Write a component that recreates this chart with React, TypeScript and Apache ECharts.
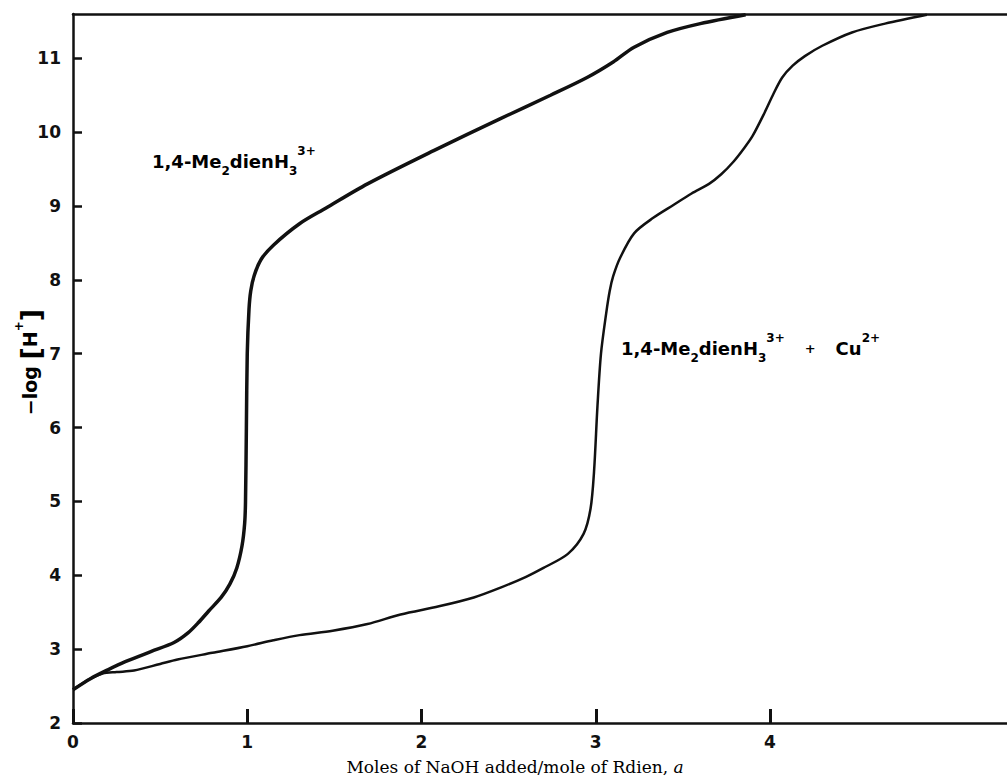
import React, { useEffect, useRef } from "react";
import * as echarts from "echarts";

const curve1X = [0, 0.1, 0.2, 0.3, 0.45, 0.58, 0.66, 0.72, 0.78, 0.85, 0.9, 0.94, 0.97, 0.985, 0.99, 0.995, 1.0, 1.01, 1.02, 1.04, 1.08, 1.15, 1.3, 1.45, 1.69, 2.07, 2.45, 2.74, 2.95, 3.1, 3.22, 3.41, 3.6, 3.86];
const curve1Y = [2.45, 2.6, 2.72, 2.83, 2.97, 3.09, 3.22, 3.36, 3.52, 3.7, 3.88, 4.1, 4.4, 4.7, 5.0, 6.0, 7.0, 7.6, 7.85, 8.06, 8.28, 8.47, 8.76, 8.97, 9.3, 9.75, 10.18, 10.5, 10.74, 10.95, 11.15, 11.35, 11.47, 11.59];

const curve2X = [0, 0.1, 0.17, 0.25, 0.35, 0.5, 0.6, 0.8, 1.0, 1.15, 1.3, 1.49, 1.69, 1.88, 2.1, 2.3, 2.45, 2.6, 2.7, 2.84, 2.93, 2.97, 2.99, 3.01, 3.03, 3.06, 3.08, 3.1, 3.14, 3.22, 3.33, 3.45, 3.55, 3.65, 3.72, 3.79, 3.85, 3.9, 3.97, 4.02, 4.07, 4.13, 4.2, 4.3, 4.47, 4.66, 4.9];
const curve2Y = [2.45, 2.6, 2.67, 2.69, 2.71, 2.8, 2.86, 2.95, 3.04, 3.12, 3.19, 3.25, 3.34, 3.47, 3.58, 3.7, 3.83, 3.98, 4.1, 4.29, 4.56, 4.9, 5.4, 6.3, 7.0, 7.55, 7.85, 8.05, 8.3, 8.63, 8.84, 9.02, 9.17, 9.3, 9.43, 9.6, 9.78, 9.95, 10.27, 10.52, 10.74, 10.9, 11.03, 11.17, 11.35, 11.47, 11.59];

const xTicks = [0, 1, 2, 3, 4];
const yTicks = [2, 3, 4, 5, 6, 7, 8, 9, 10, 11];

const label1 = "1,4-Me₂dienH₃³⁺";
const label2 = "1,4-Me₂dienH₃³⁺ + Cu²⁺";
const xTitle = "Moles of NaOH added/mole of Rdien, ";
const xTitleItalic = "a";
const yTitle = "−log [H⁺]";

const INK = "#111111";
const SANS = "DejaVu Sans";

const zip = (xs: number[], ys: number[]) => xs.map((x, i) => [x, ys[i]]);

const speciesRich = {
  m: { fontFamily: SANS, fontWeight: "bold", fontSize: 18, color: INK, lineHeight: 32, verticalAlign: "middle" },
  sub: { fontFamily: SANS, fontWeight: "bold", fontSize: 12, color: INK, verticalAlign: "bottom", lineHeight: 30 },
  sup: { fontFamily: SANS, fontWeight: "bold", fontSize: 12, color: INK, verticalAlign: "top", lineHeight: 30 },
  sp: { fontFamily: SANS, fontSize: 18, color: INK, lineHeight: 32, width: 20 },
  pl: { fontFamily: SANS, fontWeight: "bold", fontSize: 13, color: INK, lineHeight: 32, verticalAlign: "middle" },
};

export default function App() {
  const ref = useRef<HTMLDivElement>(null);
  useEffect(() => {
    if (!ref.current) return;
    const chart = echarts.init(ref.current, null, { renderer: "svg" });
    chart.setOption({
      animation: false,
      backgroundColor: "#ffffff",
      grid: { left: 73, right: 0, top: 14, bottom: 53 },
      xAxis: [
        {
          type: "value",
          min: 0,
          max: 5.36,
          position: "bottom",
          axisLine: { show: true, lineStyle: { color: INK, width: 2.5 } },
          axisTick: { show: true, inside: true, length: 14, lineStyle: { color: INK, width: 3 }, customValues: xTicks },
          axisLabel: { customValues: xTicks, color: INK, fontFamily: SANS, fontWeight: "bold", fontSize: 17, margin: 10 },
          splitLine: { show: false },
        },
        {
          type: "value",
          min: 0,
          max: 5.36,
          position: "top",
          axisLine: { show: true, onZero: false, lineStyle: { color: INK, width: 2.5 } },
          axisTick: { show: false },
          axisLabel: { show: false },
          splitLine: { show: false },
        },
      ],
      yAxis: {
        type: "value",
        min: 2,
        max: 11.6,
        axisLine: { show: true, onZero: false, lineStyle: { color: INK, width: 2.5 } },
        axisTick: { show: true, inside: true, length: 9, lineStyle: { color: INK, width: 2.5 }, customValues: yTicks },
        axisLabel: { customValues: yTicks, color: INK, fontFamily: SANS, fontWeight: "bold", fontSize: 17, margin: 12 },
        splitLine: { show: false },
      },
      series: [
        {
          type: "line",
          data: zip(curve1X, curve1Y),
          showSymbol: false,
          smooth: 0.3,
          lineStyle: { color: INK, width: 3.5 },
          z: 3,
        },
        {
          type: "line",
          data: zip(curve2X, curve2Y),
          showSymbol: false,
          smooth: 0.3,
          lineStyle: { color: INK, width: 2.5 },
          z: 3,
        },
      ],
      graphic: [
        {
          type: "text",
          left: 152,
          top: 145,
          style: {
            text: "{m|1,4-Me}{sub|2}{m|dienH}{sub|3}{sup|3+}",
            rich: speciesRich,
          },
        },
        {
          type: "text",
          left: 621,
          top: 332,
          style: {
            text: "{m|1,4-Me}{sub|2}{m|dienH}{sub|3}{sup|3+}{sp| }{pl|+}{sp| }{m|Cu}{sup|2+}",
            rich: speciesRich,
          },
        },
        {
          type: "text",
          x: 515,
          y: 767,
          style: {
            text: "{n|" + xTitle + "}{i|" + xTitleItalic + "}",
            align: "center",
            verticalAlign: "middle",
            rich: {
              n: { fontFamily: "DejaVu Serif", fontSize: 17, color: INK },
              i: { fontFamily: "DejaVu Serif", fontSize: 17, fontStyle: "italic", color: INK },
            },
          },
        },
        {
          type: "text",
          x: 30,
          y: 362,
          rotation: Math.PI / 2,
          style: {
            text: "{a|−log }{b|[}{a|H}{c|+}{b|]}",
            align: "center",
            verticalAlign: "middle",
            rich: {
              a: { fontFamily: SANS, fontWeight: "bold", fontSize: 19, color: INK, lineHeight: 34 },
              b: { fontFamily: SANS, fontWeight: "bold", fontSize: 27, color: INK, lineHeight: 34 },
              c: { fontFamily: SANS, fontWeight: "bold", fontSize: 12, color: INK, verticalAlign: "top", lineHeight: 34 },
            },
          },
        },
      ],
      title: { show: false, text: [label1, label2, yTitle].join(" ") },
    });
    return () => chart.dispose();
  }, []);
  return <div ref={ref} style={{ position: "fixed", left: 0, top: 0, width: 1007, height: 776 }} />;
}
